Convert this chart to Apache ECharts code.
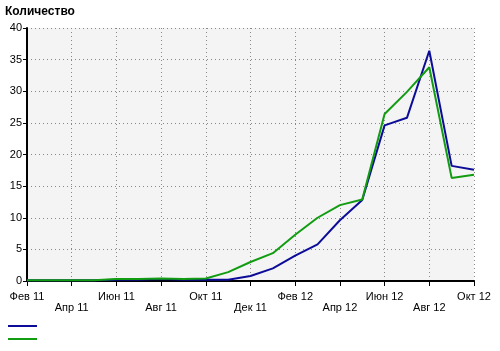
<!DOCTYPE html>
<html>
<head>
<meta charset="utf-8">
<script src="https://cdn.jsdelivr.net/npm/echarts@6/dist/echarts.min.js"></script>
<style>
  html, body { margin: 0; padding: 0; background: #fff; }
  #main { width: 500px; height: 351px; }
</style>
</head>
<body>
<div id="main"></div>
<script>
// months Feb 2011 .. Oct 2012
var months = ['Фев 11', 'Мар 11', 'Апр 11', 'Май 11', 'Июн 11', 'Июл 11', 'Авг 11', 'Сен 11', 'Окт 11', 'Ноя 11', 'Дек 11',
  'Янв 12', 'Фев 12', 'Мар 12', 'Апр 12', 'Май 12', 'Июн 12', 'Июл 12', 'Авг 12', 'Сен 12', 'Окт 12'];
var blueValues = [0.1, 0.1, 0.1, 0.1, 0.2, 0.2, 0.3, 0.2, 0.2, 0.2, 0.8, 2.0, 4.0, 5.8, 9.6, 12.8, 24.6, 25.8, 36.4, 18.2, 17.6];
var greenValues = [0.1, 0.1, 0.1, 0.1, 0.3, 0.3, 0.4, 0.3, 0.4, 1.4, 3.0, 4.4, 7.3, 10.0, 12.0, 12.9, 26.4, 29.9, 33.8, 16.3, 16.8];
var yMin = 0, yMax = 40, yStep = 5;

var chart = echarts.init(document.getElementById('main'));
var font = 'Liberation Sans';

var option = {
  animation: false,
  textStyle: { fontFamily: font },
  title: {
    text: 'Количество',
    left: 5, top: 6, padding: 0,
    textStyle: { fontFamily: font, fontSize: 12, fontWeight: 'bold', color: '#000' }
  },
  legend: {
    orient: 'vertical',
    left: 8, top: 325, padding: 0,
    itemWidth: 29, itemHeight: 2, itemGap: 11,
    icon: 'rect',
    formatter: function () { return ''; },
    data: ['Ряд 1', 'Ряд 2']
  },
  grid: {
    left: 27, right: 26, top: 28, bottom: 70,
    show: true, backgroundColor: '#f4f4f4', borderWidth: 0
  },
  xAxis: {
    type: 'category',
    data: months,
    boundaryGap: false,
    axisLine: { lineStyle: { color: '#000', width: 2 } },
    axisTick: { interval: 1, length: 5, lineStyle: { color: '#000', width: 1 } },
    axisLabel: {
      interval: 1,
      color: '#000', fontSize: 11, margin: 10, lineHeight: 11,
      formatter: function (v, idx) { return (idx / 2) % 2 ? '\n' + v : v; }
    },
    splitLine: { show: true, interval: 1, lineStyle: { color: '#888', type: [1, 3], width: 1 } }
  },
  yAxis: {
    type: 'value',
    min: yMin, max: yMax, interval: yStep,
    axisLine: { show: true, lineStyle: { color: '#000', width: 2 } },
    axisTick: { show: true, length: 4, lineStyle: { color: '#000' } },
    axisLabel: { color: '#000', fontSize: 11, margin: 5 },
    splitLine: { show: true, lineStyle: { color: '#888', type: [1, 3], width: 1 } }
  },
  series: [
    {
      name: 'Ряд 1', type: 'line', data: blueValues,
      showSymbol: false, symbol: 'none',
      itemStyle: { color: '#0c0c98' },
      lineStyle: { color: '#0c0c98', width: 2 }
    },
    {
      name: 'Ряд 2', type: 'line', data: greenValues,
      showSymbol: false, symbol: 'none',
      itemStyle: { color: '#129c12' },
      lineStyle: { color: '#129c12', width: 2 }
    }
  ]
};
chart.setOption(option);
</script>
</body>
</html>
